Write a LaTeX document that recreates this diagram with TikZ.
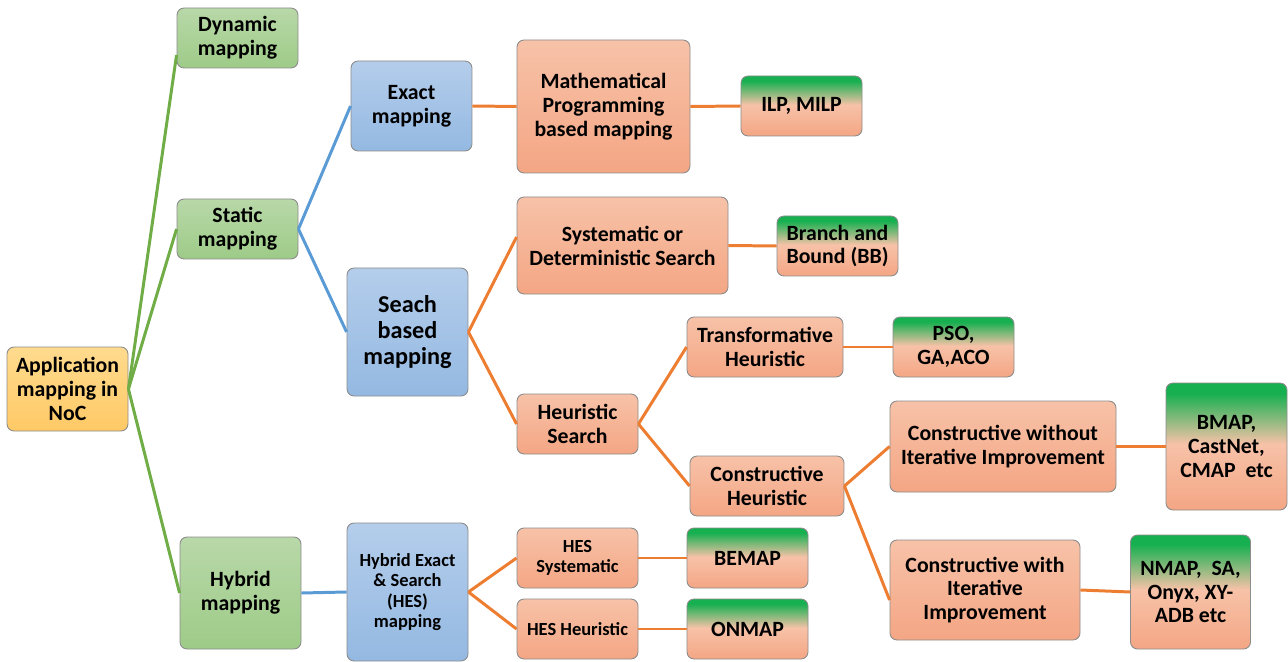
\documentclass[tikz,border=0pt]{standalone}
\usepackage{fontspec}
\setmainfont{Carlito}
\usepackage{xcolor}
\definecolor{grnline}{RGB}{112,173,71}
\definecolor{bluline}{RGB}{91,155,213}
\definecolor{orgline}{RGB}{237,125,49}
\definecolor{grnA}{RGB}{184,216,168}
\definecolor{grnB}{RGB}{158,203,136}
\definecolor{bluA}{RGB}{180,205,235}
\definecolor{bluB}{RGB}{148,185,226}
\definecolor{salA}{RGB}{247,194,168}
\definecolor{salB}{RGB}{244,166,132}
\definecolor{yelA}{RGB}{255,219,142}
\definecolor{yelB}{RGB}{255,201,102}
\definecolor{leafgrn}{RGB}{22,176,80}
\pgfdeclareverticalshading{leafshade}{100bp}{color(0bp)=(salB); color(25bp)=(salB); color(51bp)=(salA); color(71bp)=(leafgrn); color(100bp)=(leafgrn)}
\tikzset{%
    box/.style={draw=black!45, line width=0.5pt, rounded corners=4pt,
        align=center, inner sep=2pt, font=\fontsize{12.4}{13.6}\selectfont\bfseries},
    boxsize/.style 2 args={minimum width=#1*0.02cm, minimum height=#2*0.02cm},
    rootbox/.style={box, top color=yelA, bottom color=yelB},
    grnbox/.style={box, top color=grnA, bottom color=grnB},
    blubox/.style={box, top color=bluA, bottom color=bluB},
    salbox/.style={box, top color=salA, bottom color=salB},
    leafbox/.style={box, shading=leafshade},
    bigtext/.style={font=\fontsize{13.8}{15}\selectfont\bfseries},
    smalltext/.style={font=\fontsize{10.5}{11.7}\selectfont\bfseries},
    grnlink/.style={draw=grnline, line width=1.7pt},
    blulink/.style={draw=bluline, line width=1.7pt},
    orglink/.style={draw=orgline, line width=1.7pt}
}

\begin{document}
\begin{tikzpicture}[x=0.02cm,y=-0.02cm]
\useasboundingbox (0,0) rectangle (1288,662);
% left part
\node[rootbox,boxsize={121}{84}] (app) at (67.5,389) {Application\\mapping in\\NoC};
\node[grnbox,boxsize={121}{60}] (dyn) at (237.5,38) {Dynamic\\mapping};
\node[grnbox,boxsize={121}{60}] (stat) at (237.5,229) {Static\\mapping};
\node[grnbox,boxsize={121}{112}] (hyb) at (240.5,593) {Hybrid\\mapping};
\node[blubox,boxsize={121}{90}] (exact) at (411.5,106) {Exact\\mapping};
\node[blubox,bigtext,boxsize={121}{128}] (search) at (407.5,332) {Seach\\based\\mapping};
\node[blubox,smalltext,boxsize={121}{138}] (hes) at (407.5,592) {Hybrid Exact\\\& Search\\(HES)\\mapping};
% methods
\node[salbox,boxsize={173}{133}] (math) at (603.5,106.5) {Mathematical\\Programming\\based mapping};
\node[salbox,boxsize={211}{97}] (syst) at (622.5,245.5) {Systematic or\\Deterministic Search};
\node[salbox,boxsize={121}{60}] (heur) at (577.5,424) {Heuristic\\Search};
\node[salbox,boxsize={156}{60}] (trans) at (765,347) {Transformative\\Heuristic};
\node[salbox,boxsize={154}{60}] (cons) at (767,486) {Constructive\\Heuristic};
\node[salbox,boxsize={226}{91}] (cwoi) at (1003,446.5) {Constructive without\\Iterative Improvement};
\node[salbox,boxsize={190}{100}] (cwi) at (985,590) {Constructive with\\Iterative\\Improvement};
\node[salbox,smalltext,boxsize={121}{60}] (hsys) at (577.5,558) {HES\\Systematic};
\node[salbox,smalltext,boxsize={121}{60}] (hheur) at (577.5,629) {HES Heuristic};
% examples
\node[leafbox,boxsize={121}{60}] (ilp) at (801.5,106) {ILP, MILP};
\node[leafbox,boxsize={121}{60}] (bb) at (837.5,246) {Branch and\\Bound (BB)};
\node[leafbox,boxsize={121}{60}] (pso) at (953.5,347) {PSO,\\GA,ACO};
\node[leafbox,boxsize={121}{127}] (bmap) at (1226.5,446.5) {BMAP,\\CastNet,\\CMAP\ \ etc};
\node[leafbox,boxsize={120}{114}] (nmap) at (1190.5,592) {NMAP,\ \ SA,\\Onyx, XY-\\ADB etc};
\node[leafbox,boxsize={121}{60}] (bemap) at (747.5,558) {BEMAP};
\node[leafbox,boxsize={121}{60}] (onmap) at (747.5,629) {ONMAP};
% links
\draw[grnlink] (app.east) -- ([yshift=-0.34cm]dyn.west);
\draw[grnlink] (app.east) -- (stat.west);
\draw[grnlink] (app.east) -- (hyb.west);
\draw[blulink] (stat.east) -- (exact.west);
\draw[blulink] (stat.east) -- (search.west);
\draw[blulink] (hyb.east) -- (hes.west);
\draw[orglink] (exact.east) -- (math.west);
\draw[orglink] (math.east) -- (ilp.west);
\draw[orglink] (search.east) -- ([yshift=0.17cm]syst.west);
\draw[orglink] (search.east) -- (heur.west);
\draw[orglink] (syst.east) -- (bb.west);
\draw[orglink] (heur.east) -- (trans.west);
\draw[orglink] (heur.east) -- (cons.west);
\draw[orglink] (trans.east) -- (pso.west);
\draw[orglink] (cons.east) -- (cwoi.west);
\draw[orglink] (cons.east) -- ([yshift=-0.2cm]cwi.west);
\draw[orglink] (cwoi.east) -- (bmap.west);
\draw[orglink] (cwi.east) -- (nmap.west);
\draw[orglink] (hes.east) -- (hsys.west);
\draw[orglink] (hes.east) -- (hheur.west);
\draw[orglink] (hsys.east) -- (bemap.west);
\draw[orglink] (hheur.east) -- (onmap.west);
\end{tikzpicture}
\end{document}
